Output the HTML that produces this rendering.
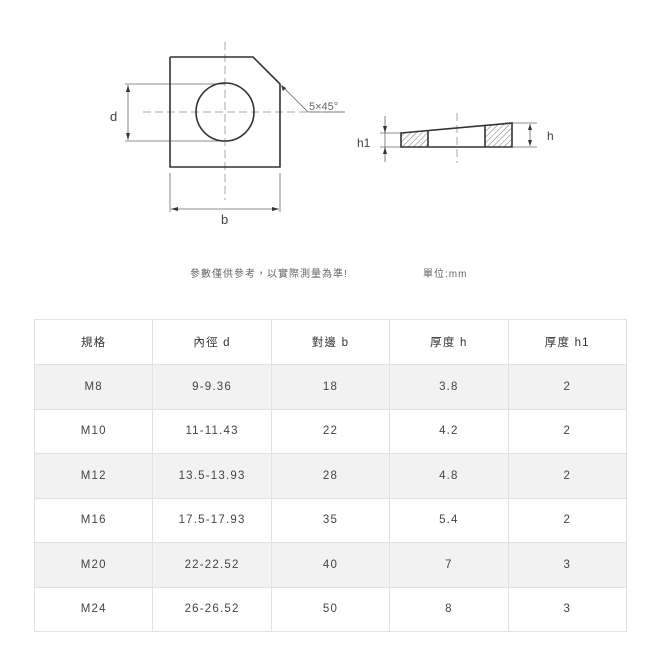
<!DOCTYPE html>
<html><head><meta charset="utf-8"><style>
body{margin:0;background:#fff;width:660px;height:660px;position:relative;overflow:hidden;font-family:"Liberation Sans","Noto Sans CJK TC",sans-serif;}
svg{position:absolute;left:0;top:0}
.note{position:absolute;top:265px;font-size:10px;color:#666;letter-spacing:1px;white-space:nowrap}
table{position:absolute;left:34px;top:319px;border-collapse:collapse;width:593px;table-layout:fixed}
td{border:1px solid #e2e2e2;height:43.5px;text-align:center;font-size:11.5px;color:#444;letter-spacing:1.2px;padding:0}
tr:nth-child(even) td{background:#f2f2f2}
tr:first-child td{height:44px;color:#333}
</style></head><body>
<svg width="660" height="300" viewBox="0 0 660 300">
<g stroke="#aaa" stroke-width="1" stroke-dasharray="8,4" fill="none">
<line x1="225" y1="42" x2="225" y2="200"/>
<line x1="143" y1="112" x2="345" y2="112"/>
<line x1="457" y1="113" x2="457" y2="163"/>
</g>
<g stroke="#666" stroke-width="0.8" fill="none">
<line x1="125" y1="84" x2="225" y2="84"/>
<line x1="125" y1="141" x2="225" y2="141"/>
<line x1="128" y1="85" x2="128" y2="140"/>
<line x1="170" y1="173" x2="170" y2="212"/>
<line x1="280" y1="173" x2="280" y2="212"/>
<line x1="171" y1="209" x2="279" y2="209"/>
<polyline points="282,86 308,112 345,112"/>
<line x1="380" y1="133" x2="405" y2="133"/>
<line x1="380" y1="147" x2="405" y2="147"/>
<line x1="385" y1="116" x2="385" y2="162"/>
<line x1="505" y1="123" x2="537" y2="123"/>
<line x1="505" y1="147" x2="537" y2="147"/>
<line x1="530" y1="124" x2="530" y2="146"/>
</g>
<g fill="#333">
<polygon points="128,85 126,92 130,92"/><polygon points="128,140 126,133 130,133"/>
<polygon points="171,209 178,207 178,211"/><polygon points="279,209 272,207 272,211"/>
<polygon points="385,133 383,126 387,126"/><polygon points="385,147 383,154 387,154"/>
<polygon points="530,124 528,130 532,130"/><polygon points="530,146 528,140 532,140"/>
<polygon points="281,85 286,88 283,91"/>
</g>
<defs><pattern id="h" width="4" height="4" patternUnits="userSpaceOnUse" patternTransform="rotate(45)"><line x1="0" y1="0" x2="0" y2="4" stroke="#777" stroke-width="1"/></pattern></defs>
<polygon points="401,133 428,130.5 428,147 401,147" fill="url(#h)"/>
<polygon points="485,125 512,123 512,147 485,147" fill="url(#h)"/>
<g stroke="#333" stroke-width="1.6" fill="none">
<polyline points="170,57 253,57 280,84 280,167 170,167 170,57"/>
<circle cx="225" cy="112" r="29"/>
<polygon points="401,133 512,123 512,147 401,147"/>
<line x1="428" y1="131" x2="428" y2="147"/>
<line x1="485" y1="126" x2="485" y2="147"/>
</g>
<g font-family="Liberation Sans,sans-serif" fill="#444">
<text x="110" y="121" font-size="13">d</text>
<text x="221" y="224" font-size="13">b</text>
<text x="309" y="110" font-size="11" fill="#666">5×45°</text>
<text x="357" y="147" font-size="12">h1</text>
<text x="547" y="140" font-size="12">h</text>
</g>
</svg>
<div class="note" style="left:190px">參數僅供參考，以實際測量為準!</div>
<div class="note" style="left:423px">單位:mm</div>
<table>
<tr><td>規格</td><td>內徑 d</td><td>對邊 b</td><td>厚度 h</td><td>厚度 h1</td></tr>
<tr><td>M8</td><td>9-9.36</td><td>18</td><td>3.8</td><td>2</td></tr>
<tr><td>M10</td><td>11-11.43</td><td>22</td><td>4.2</td><td>2</td></tr>
<tr><td>M12</td><td>13.5-13.93</td><td>28</td><td>4.8</td><td>2</td></tr>
<tr><td>M16</td><td>17.5-17.93</td><td>35</td><td>5.4</td><td>2</td></tr>
<tr><td>M20</td><td>22-22.52</td><td>40</td><td>7</td><td>3</td></tr>
<tr><td>M24</td><td>26-26.52</td><td>50</td><td>8</td><td>3</td></tr>
</table>
</body></html>
